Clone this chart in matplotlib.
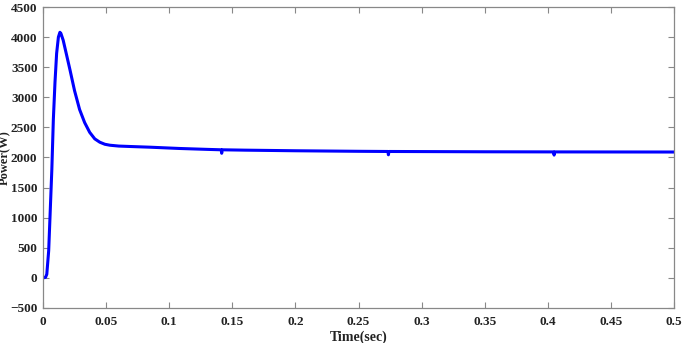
import matplotlib.pyplot as plt

# values (time in s, power in W)
time = [0.0, 0.002, 0.003, 0.0045, 0.0055, 0.007, 0.0082, 0.0095, 0.0108, 0.0122, 0.0134, 0.0142,
        0.016, 0.0185, 0.0214, 0.025, 0.029, 0.033, 0.037, 0.041, 0.045, 0.049, 0.053, 0.06,
        0.07, 0.085, 0.108, 0.13, 0.1412, 0.1416, 0.142, 0.16, 0.2, 0.25, 0.2733, 0.2737,
        0.2741, 0.306, 0.35, 0.4046, 0.405, 0.4054, 0.45, 0.5]
power = [0, 10, 60, 450, 987, 1800, 2632, 3250, 3730, 4000, 4080, 4060,
         3948, 3720, 3454, 3110, 2797, 2580, 2418, 2310, 2254, 2220, 2204, 2190,
         2182, 2171, 2150, 2135, 2128, 2070, 2128, 2122, 2112, 2103, 2100, 2045,
         2100, 2098, 2095, 2093, 2040, 2093, 2092, 2091]

xticks = [0, 0.05, 0.1, 0.15, 0.2, 0.25, 0.3, 0.35, 0.4, 0.45, 0.5]
xlabels = ['0', '0.05', '0.1', '0.15', '0.2', '0.25', '0.3', '0.35', '0.4', '0.45', '0.5']
yticks = list(range(-500, 4501, 500))

plt.rcParams['font.family'] = 'Liberation Serif'
plt.rcParams['font.weight'] = 'bold'

fig = plt.figure(figsize=(6.85, 3.43), dpi=100)
ax = fig.add_axes([43 / 685, 35 / 343, 631 / 685, 301 / 343])
ax.plot(time, power, color='#0000ff', linewidth=2.2)

ax.set_xlim(0, 0.5)
ax.set_ylim(-500, 4500)
ax.set_xticks(xticks)
ax.set_xticklabels(xlabels)
ax.set_yticks(yticks)
ax.tick_params(direction='in', top=True, right=True, length=4, width=0.8,
               color='#888888', labelsize=9.5)
ax.tick_params(axis='x', pad=6)
ax.tick_params(axis='y', pad=4)
for lbl in ax.get_xticklabels() + ax.get_yticklabels():
    lbl.set_fontweight('bold')
    lbl.set_color('#222222')
for s in ax.spines.values():
    s.set_color('#888888')
    s.set_linewidth(0.9)

ax.set_xlabel('Time(sec)', fontsize=10, fontweight='bold', color='#222222')
ax.set_ylabel('Power(W)', fontsize=9, fontweight='bold', color='#222222')
ax.xaxis.set_label_coords(0.5, -0.075)
ax.yaxis.set_label_coords(-0.05, 0.5)

fig.savefig('out.png', dpi=100)
